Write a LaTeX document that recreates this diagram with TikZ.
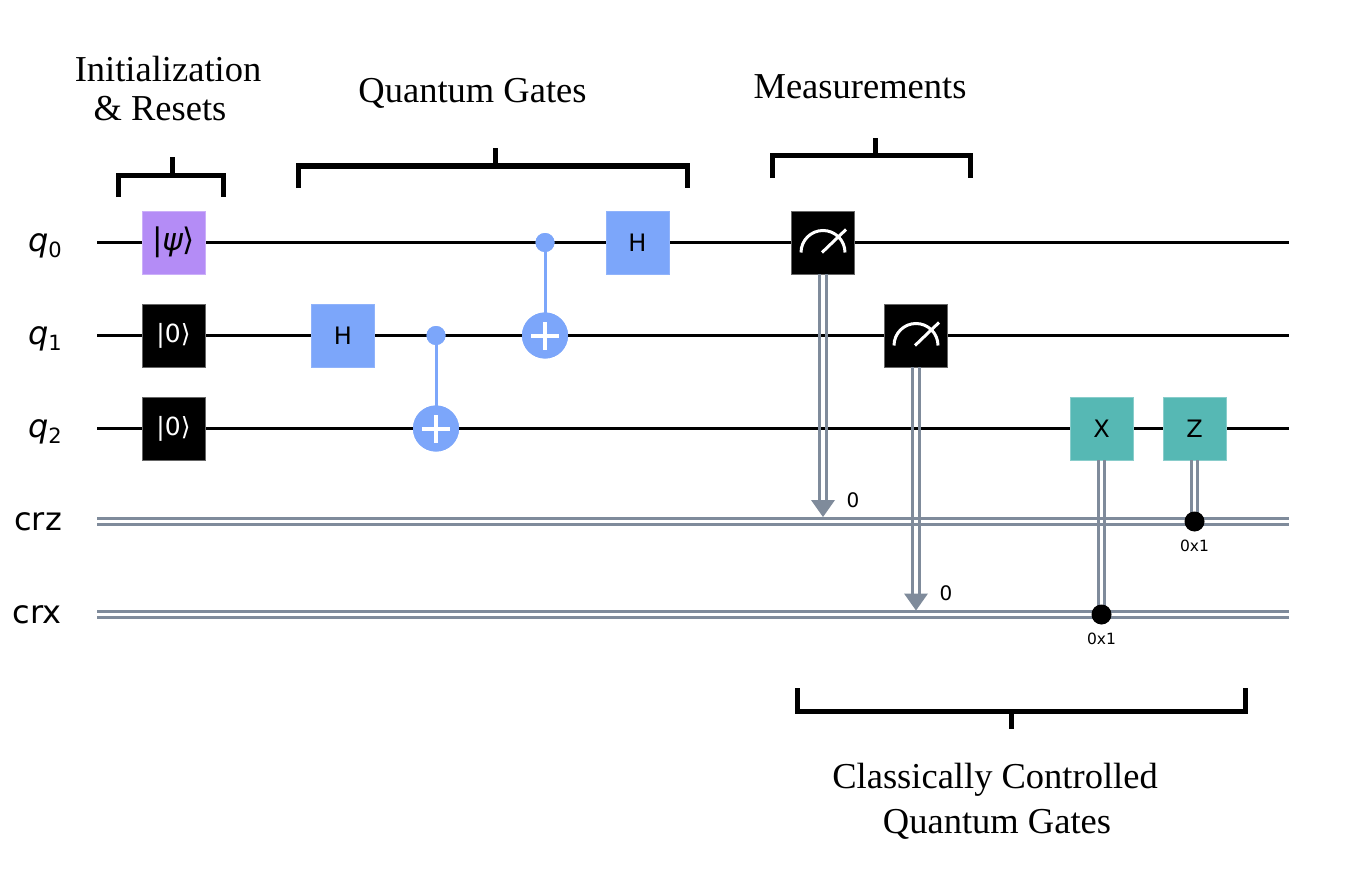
\documentclass[tikz,border=0pt]{standalone}
\usepackage{fontspec}
\setmainfont{Liberation Serif}
\newfontfamily\dv{DejaVu Sans}
\definecolor{hblue}{HTML}{7CA6FA}
\definecolor{ipurple}{HTML}{B48CF6}
\definecolor{cteal}{HTML}{56B8B4}
\definecolor{clgray}{HTML}{7F8B9B}
\tikzset{
 qwire/.style={line width=2.8pt, draw=black},
 cwire/.style={line width=2.8pt, draw=clgray},
 gate/.style={rectangle, minimum width=63pt, minimum height=63pt, inner sep=0pt, line width=0.8pt, text=black, font=\dv\fontsize{24}{28}\selectfont},
 hgate/.style={gate, fill=hblue, draw=hblue!85!white},
 initgate/.style={gate, fill=ipurple, draw=ipurple!70!white},
 resetgate/.style={gate, fill=black, draw=black!60, text=white},
 measgate/.style={gate, fill=black, draw=black!60},
 ccgate/.style={gate, fill=cteal, draw=cteal!70!white},
 ctrldot/.style={circle, fill=hblue, minimum size=19pt, inner sep=0pt},
 targ/.style={circle, fill=hblue, minimum size=46pt, inner sep=0pt},
 cdot/.style={circle, fill=black, minimum size=20pt, inner sep=0pt},
 cnotline/.style={line width=3pt, draw=hblue},
 plusline/.style={line width=4pt, draw=white},
 meter/.style={line width=3pt, draw=white},
 bracket/.style={line width=5pt, draw=black, line join=miter},
 title/.style={font=\fontsize{36.5}{44}\selectfont, inner sep=0pt, anchor=base},
 reglabel/.style={font=\dv\fontsize{32}{36}\selectfont, inner sep=0pt, anchor=base east},
 smalllabel/.style={font=\dv\fontsize{15.5}{18}\selectfont, inner sep=0pt},
 bitlabel/.style={font=\dv\fontsize{20}{24}\selectfont, inner sep=0pt},
}
\begin{document}
\begin{tikzpicture}[x=1pt,y=1pt]
\fill[white] (0,0) rectangle (1360,-872);
\useasboundingbox (0,0) rectangle (1360,-872);

% wire end points
\coordinate (q0s) at (97,-242.5);  \coordinate (q0e) at (1289,-242.5);
\coordinate (q1s) at (97,-335.5);  \coordinate (q1e) at (1289,-335.5);
\coordinate (q2s) at (97,-428.5);  \coordinate (q2e) at (1289,-428.5);
\coordinate (czs) at (97,-521.5);  \coordinate (cze) at (1289,-521.5);
\coordinate (cxs) at (97,-614.5);  \coordinate (cxe) at (1289,-614.5);

% register labels
\node[reglabel] (lq0) at (62,-251.5) {{\itshape q}\raisebox{-6pt}{\fontsize{21}{24}\selectfont 0}};
\node[reglabel] (lq1) at (62,-344.5) {{\itshape q}\raisebox{-6pt}{\fontsize{21}{24}\selectfont 1}};
\node[reglabel] (lq2) at (62,-437.5) {{\itshape q}\raisebox{-6pt}{\fontsize{21}{24}\selectfont 2}};
\node[reglabel] (lcz) at (62,-530.5) {crz};
\node[reglabel] (lcx) at (62,-623.5) {crx};

% quantum wires
\draw[qwire] (q0s) -- (q0e);
\draw[qwire] (q1s) -- (q1e);
\draw[qwire] (q2s) -- (q2e);
% classical wires (two separate lines)
\foreach \s in {-3.1,3.1}{
  \draw[cwire] ([yshift=\s pt]czs) -- ([yshift=\s pt]cze);
  \draw[cwire] ([yshift=\s pt]cxs) -- ([yshift=\s pt]cxe);
}

% initialization and resets
\node[initgate] (psi) at (173.5,-242.5) {\fontsize{31}{34}\selectfont|{\itshape ψ}⟩};
\node[resetgate] (r1) at (173.5,-335.5) {\fontsize{25}{28}\selectfont|0⟩};
\node[resetgate] (r2) at (173.5,-428.5) {\fontsize{25}{28}\selectfont|0⟩};

% gates
\node[hgate] (h1) at (343,-335.5) {H};
\node[ctrldot] (c1) at (436,-335.5) {};
\node[targ] (t1) at (436,-428.5) {};
\draw[cnotline] (c1.center) -- (t1.center);
\node[ctrldot] (c2) at (545,-242.5) {};
\node[targ] (t2) at (545,-335.5) {};
\draw[cnotline] (c2.center) -- (t2.center);
\node[ctrldot] at (c1) {};
\node[targ] at (t1) {};
\node[ctrldot] at (c2) {};
\node[targ] at (t2) {};
\foreach \t in {t1,t2}{
  \draw[plusline] ([xshift=-14pt]\t.center) -- ([xshift=14pt]\t.center);
  \draw[plusline] ([yshift=-14pt]\t.center) -- ([yshift=14pt]\t.center);
}
\node[hgate] (h2) at (637.5,-242.5) {H};

% measurements
\node[measgate] (m1) at (823,-242.5) {};
\node[measgate] (m2) at (916,-335.5) {};
\foreach \m in {m1,m2}{
  \draw[meter] ([shift={(-22,-10)}]\m.center) arc[start angle=180, end angle=0, radius=22pt];
  \draw[meter] ([shift={(-1,-10)}]\m.center) -- ([shift={(23,13)}]\m.center);
}
\coordinate (a1b) at (823,-500);   \coordinate (a1t) at (823,-517);
\coordinate (a2b) at (916,-593.5); \coordinate (a2t) at (916,-610.5);
\foreach \s in {-3.3,3.3}{
  \draw[cwire] ([xshift=\s pt]m1.south) -- ([xshift=\s pt]a1b);
  \draw[cwire] ([xshift=\s pt]m2.south) -- ([xshift=\s pt]a2b);
}
\fill[clgray] ([xshift=-12pt]a1b) -- ([xshift=12pt]a1b) -- (a1t) -- cycle;
\fill[clgray] ([xshift=-12pt]a2b) -- ([xshift=12pt]a2b) -- (a2t) -- cycle;
\node[bitlabel] (b1) at (853,-500.5) {0};
\node[bitlabel] (b2) at (946,-593.5) {0};

% classically controlled gates
\node[ccgate] (xg) at (1101.5,-428.5) {X};
\node[ccgate] (zg) at (1194.5,-428.5) {Z};
\coordinate (xc) at (1101.5,-614.5);
\coordinate (zc) at (1194.5,-521.5);
\foreach \s in {-3.3,3.3}{
  \draw[cwire] ([xshift=\s pt]xg.south) -- ([xshift=\s pt]xc);
  \draw[cwire] ([xshift=\s pt]zg.south) -- ([xshift=\s pt]zc);
}
\node[cdot] (xd) at (xc) {};
\node[cdot] (zd) at (zc) {};
\node[smalllabel] (lx) at (1101.5,-639) {0x1};
\node[smalllabel] (lz) at (1194.5,-546) {0x1};

% brackets
\draw[bracket] (118,-197) -- (118,-175) -- (223,-175) -- (223,-197);
\draw[bracket] (172,-175) -- (172,-157);
\draw[bracket] (298,-188) -- (298,-166) -- (687,-166) -- (687,-188);
\draw[bracket] (495,-166) -- (495,-148);
\draw[bracket] (772.5,-178) -- (772.5,-155.5) -- (970.5,-155.5) -- (970.5,-178);
\draw[bracket] (875.5,-155.5) -- (875.5,-138);
\draw[bracket] (797,-688) -- (797,-711) -- (1245.5,-711) -- (1245.5,-688);
\draw[bracket] (1011,-711) -- (1011,-729);

% section titles
\node[title] (ti1) at (168,-82) {Initialization};
\node[title] (ti2) at (160,-121) {\& Resets};
\node[title] (ti3) at (472.5,-103) {Quantum Gates};
\node[title] (ti4) at (860,-99) {Measurements};
\node[title] (ti5) at (995,-788) {Classically Controlled};
\node[title] (ti6) at (997,-833) {Quantum Gates};
\end{tikzpicture}
\end{document}
